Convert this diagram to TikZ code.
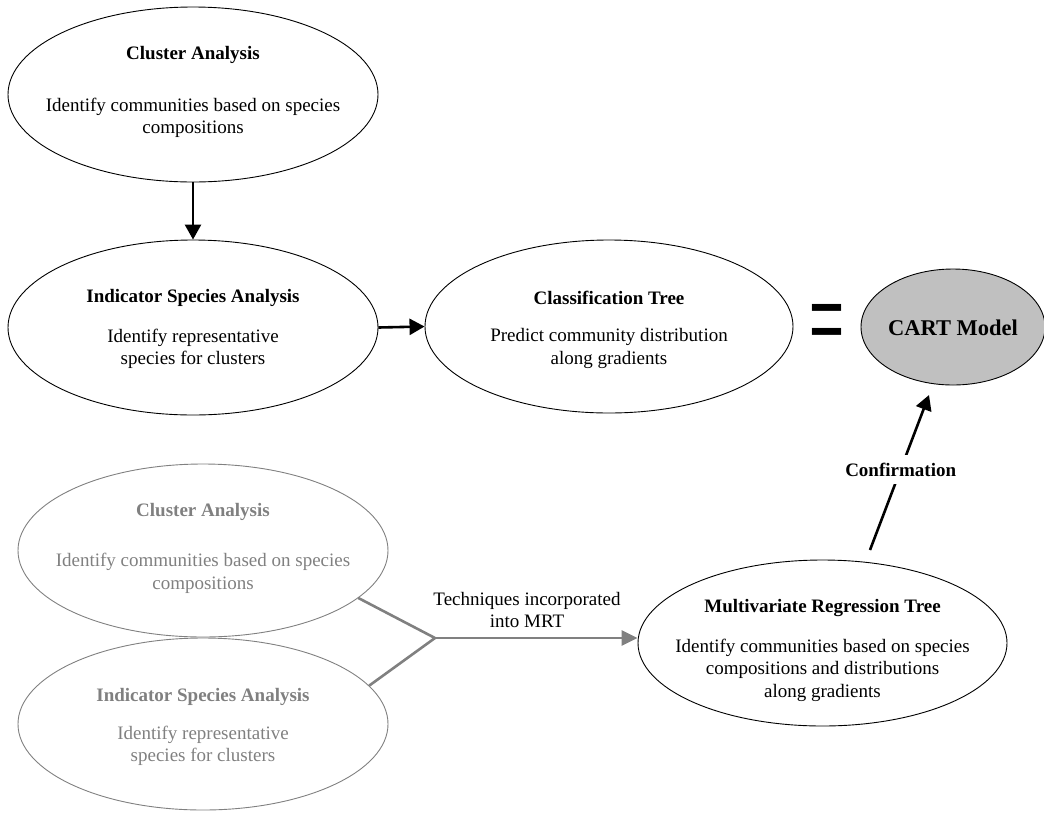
\documentclass[tikz,border=0pt]{standalone}
\usepackage{fontspec}
\setmainfont{Liberation Serif}
\newfontfamily\eqfont{Liberation Sans}
\usetikzlibrary{arrows.meta,shapes.geometric}
\definecolor{dimgray}{HTML}{808080}
\definecolor{cartfill}{HTML}{C0C0C0}
\begin{document}
\begin{tikzpicture}[x=1pt,y=-1pt,
  ell/.style={draw, ellipse, line width=0.9pt, inner sep=0pt},
  gell/.style={ell, draw=dimgray},
  ttl/.style={font=\fontsize{19}{22.5}\selectfont\bfseries, inner sep=0pt},
  bdy/.style={font=\fontsize{19}{22.5}\selectfont, align=center, inner sep=0pt},
  arr/.style={line width=2.6pt, -{Triangle[length=15pt,width=16pt]}},
  garr/.style={line width=2.6pt, draw=dimgray, -{Triangle[length=16pt,width=15pt]}},
  gline/.style={line width=2.6pt, draw=dimgray}
]
\useasboundingbox (0,0) rectangle (1044,812);

% top row
\node[ell, minimum width=370pt, minimum height=175pt] (ca) at (193,94.5) {};
\node[ttl] (catitle) at (193,55) {Cluster Analysis};
\node[bdy] (cabody) at (193,118) {Identify communities based on species\\compositions};

\node[ell, minimum width=370pt, minimum height=175pt] (ia) at (193,327.5) {};
\node[ttl] (iatitle) at (193,298) {Indicator Species Analysis};
\node[bdy] (iabody) at (193,349) {Identify representative\\species for clusters};

\node[ell, minimum width=368pt, minimum height=173pt] (ct) at (609,326.5) {};
\node[ttl] (cttitle) at (609,298) {Classification Tree};
\node[bdy] (ctbody) at (609,348.5) {Predict community distribution\\along gradients};

\node[inner sep=0pt] (eq) at (827.5,327.5) {\scalebox{1}[1.6]{\fontsize{60}{60}\eqfont =}};

\node[ell, fill=cartfill, minimum width=184pt, minimum height=116pt] (cart) at (953,327) {};
\node[ttl, font=\fontsize{22.5}{26}\selectfont\bfseries] (carttitle) at (953,328) {CART Model};

% bottom (gray) row
\node[gell, minimum width=370pt, minimum height=173pt] (ca2) at (203,550.5) {};
\node[ttl, text=dimgray] (ca2title) at (203,512) {Cluster Analysis};
\node[bdy, text=dimgray] (ca2body) at (203,573.5) {Identify communities based on species\\compositions};

\node[gell, minimum width=370pt, minimum height=172pt] (ia2) at (203,724) {};
\node[ttl, text=dimgray] (ia2title) at (203,697) {Indicator Species Analysis};
\node[bdy, text=dimgray] (ia2body) at (203,746) {Identify representative\\species for clusters};

\node[ell, minimum width=369pt, minimum height=166pt] (mrt) at (822.5,643) {};
\node[ttl] (mrttitle) at (822.5,608) {Multivariate Regression Tree};
\node[bdy] (mrtbody) at (822.5,670) {Identify communities based on species\\compositions and distributions\\along gradients};

% connectors
\draw[arr] (ca.south) -- (ia.north);
\draw[arr] (ia.east) -- (ct.west);

\coordinate (j) at (435,638);
\draw[gline] (ca2.-17.7) -- (j);
\draw[gline] (ia2.13.3) -- (j);
\draw[garr] (j) -- (j -| mrt.west);
\node[bdy] (techlabel) at (527,610) {Techniques incorporated\\into MRT};

\coordinate (conf0) at (870,550);
\coordinate (conf1) at (929,395);
\draw[arr] (conf0) -- node[ttl, fill=white, inner xsep=2pt, inner ysep=8pt, pos=0.52] (conflabel) {Confirmation} (conf1);
\end{tikzpicture}
\end{document}
